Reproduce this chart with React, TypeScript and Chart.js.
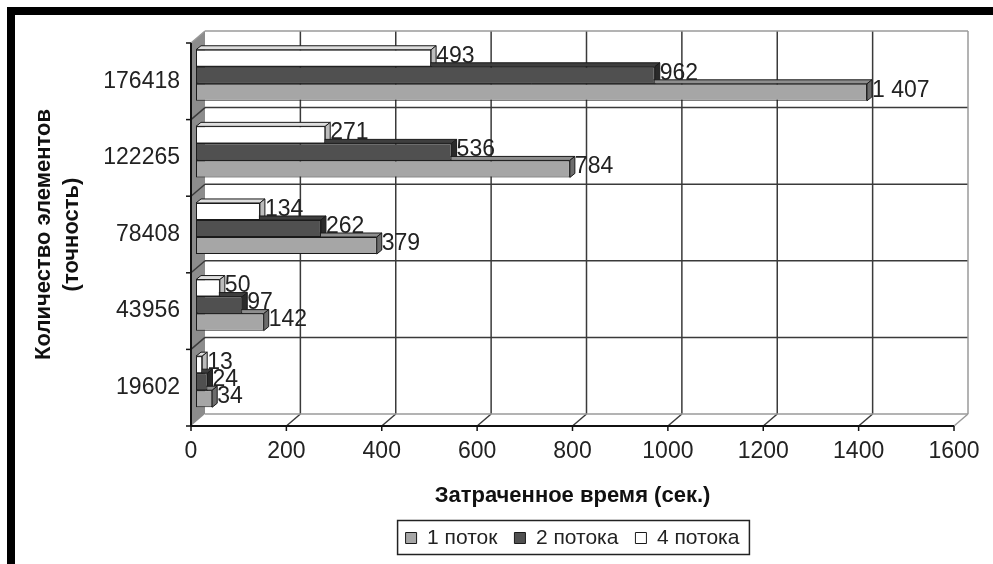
import React, { useEffect, useRef } from 'react';
import { Chart, registerables } from 'chart.js';

Chart.register(...registerables);

const categories = ['176418', '122265', '78408', '43956', '19602'];
const seriesNames = ['1 поток', '2 потока', '4 потока'];
const oneThread = [1407, 784, 379, 142, 34];
const twoThreads = [962, 536, 262, 97, 24];
const fourThreads = [493, 271, 134, 50, 13];
const xTickValues = [0, 200, 400, 600, 800, 1000, 1200, 1400, 1600];
const xTitle = 'Затраченное время (сек.)';
const yTitle = ['Количество элементов', '(точность)'];

const FONT = "'Liberation Sans', Arial, sans-serif";
const TEXT = '#222222';

const DX = 14, DY = -12; // wall depth
const BX = 5, BY = -6; // bar depth position
const FX = 5, FY = -4; // bar box depth

const faceColors: Record<string, { top: string; end: string }> = {
  '#ffffff': { top: '#dedede', end: '#bcbcbc' },
  '#505050': { top: '#3e3e3e', end: '#2a2a2a' },
  '#a6a6a6': { top: '#8e8e8e', end: '#6c6c6c' },
};

function fmt(v: number) {
  if (v >= 1000) return `${Math.floor(v / 1000)} ${String(v % 1000).padStart(3, '0')}`;
  return String(v);
}

const frame3d = {
  id: 'frame3d',
  beforeDatasetsDraw(chart: any) {
    const { ctx, chartArea: a, scales } = chart;
    const xs = scales.x, ys = scales.y;
    const L = a.left, R = a.right, T = a.top, B = a.bottom;
    const line = (x1: number, y1: number, x2: number, y2: number) => {
      ctx.beginPath(); ctx.moveTo(x1, y1); ctx.lineTo(x2, y2); ctx.stroke();
    };
    ctx.save();
    // left wall
    ctx.fillStyle = '#8c8c8c';
    ctx.beginPath();
    ctx.moveTo(L, T); ctx.lineTo(L + DX, T + DY); ctx.lineTo(L + DX, B + DY); ctx.lineTo(L, B);
    ctx.closePath(); ctx.fill();
    const n = categories.length;
    const band = (B - T) / n;
    const bounds: number[] = [];
    for (let i = 0; i < n; i++) bounds.push(ys.getPixelForValue(i) - band / 2);
    bounds.push(ys.getPixelForValue(n - 1) + band / 2);
    // back horizontal gridlines
    ctx.strokeStyle = '#3a3a3a';
    ctx.lineWidth = 1.5;
    for (let k = 1; k < n; k++) {
      const y = bounds[k];
      line(L + DX, y + DY, R + DX, y + DY);
      line(L, y, L + DX, y + DY);
    }
    // back vertical gridlines + floor lines
    xTickValues.forEach((v, i) => {
      if (i === 0 || i === xTickValues.length - 1) return;
      const x = xs.getPixelForValue(v);
      line(x + DX, T + DY, x + DX, B + DY);
      line(x + DX, B + DY, x, B);
    });
    // outer border of back plane
    ctx.strokeStyle = '#9a9a9a';
    line(L + DX, T + DY, R + DX, T + DY);
    line(R + DX, T + DY, R + DX, B + DY);
    line(R + DX, B + DY, R, B);
    line(L + DX, B + DY, R + DX, B + DY);
    line(L, T, L + DX, T + DY);
    // front axes
    ctx.strokeStyle = '#111111';
    ctx.lineWidth = 2;
    line(L, T, L, B);
    line(L, B, R, B);
    ctx.lineWidth = 1.5;
    xTickValues.forEach((v) => {
      const x = xs.getPixelForValue(v);
      line(x, B, x, B + 5);
    });
    bounds.forEach((y) => line(L - 5, y, L, y));
    ctx.restore();

    // bars: box faces, then library draws front faces
    ctx.save();
    ctx.translate(BX, BY);
    chart.data.datasets.forEach((ds: any, di: number) => {
      const meta = chart.getDatasetMeta(di);
      const fc = faceColors[ds.backgroundColor] || { top: '#999', end: '#777' };
      meta.data.forEach((el: any) => {
        const { x, y, base, height } = el;
        const top = y - height / 2, bot = y + height / 2;
        ctx.strokeStyle = '#1a1a1a';
        ctx.lineWidth = 1;
        ctx.fillStyle = fc.top;
        ctx.beginPath();
        ctx.moveTo(base, top); ctx.lineTo(x, top); ctx.lineTo(x + FX, top + FY); ctx.lineTo(base + FX, top + FY);
        ctx.closePath(); ctx.fill(); ctx.stroke();
        ctx.fillStyle = fc.end;
        ctx.beginPath();
        ctx.moveTo(x, top); ctx.lineTo(x + FX, top + FY); ctx.lineTo(x + FX, bot + FY); ctx.lineTo(x, bot);
        ctx.closePath(); ctx.fill(); ctx.stroke();
      });
    });
  },
  afterDatasetsDraw(chart: any) {
    const { ctx } = chart;
    ctx.restore();
    ctx.save();
    ctx.fillStyle = TEXT;
    ctx.font = `23px ${FONT}`;
    ctx.textAlign = 'left';
    ctx.textBaseline = 'middle';
    chart.data.datasets.forEach((ds: any, di: number) => {
      const meta = chart.getDatasetMeta(di);
      meta.data.forEach((el: any, i: number) => {
        ctx.fillText(fmt(ds.data[i]), el.x + BX + FX, el.y + BY - 2);
      });
    });
    ctx.restore();
  },
  afterDraw(chart: any) {
    const lg = chart.legend;
    if (!lg || !lg.legendHitBoxes || !lg.legendHitBoxes.length) return;
    const hb = lg.legendHitBoxes;
    let minL = Infinity, maxR = -Infinity, top = Infinity, bot = -Infinity;
    hb.forEach((h: any) => {
      minL = Math.min(minL, h.left);
      maxR = Math.max(maxR, h.left + h.width);
      top = Math.min(top, h.top);
      bot = Math.max(bot, h.top + h.height);
    });
    const { ctx } = chart;
    ctx.save();
    ctx.strokeStyle = '#222222';
    ctx.lineWidth = 1.5;
    ctx.strokeRect(minL - 8, top - 7, maxR - minL + 18, bot - top + 13);
    ctx.restore();
  },
};

export default function App() {
  const ref = useRef<HTMLCanvasElement | null>(null);
  useEffect(() => {
    if (!ref.current) return;
    const chart = new Chart(ref.current, {
      type: 'bar',
      data: {
        labels: categories,
        datasets: [
          { label: seriesNames[2], data: fourThreads, backgroundColor: '#ffffff' },
          { label: seriesNames[1], data: twoThreads, backgroundColor: '#505050' },
          { label: seriesNames[0], data: oneThread, backgroundColor: '#a6a6a6' },
        ].map((d) => ({
          ...d,
          borderColor: '#1a1a1a',
          borderWidth: 1,
          borderSkipped: false,
          categoryPercentage: 0.667,
          barPercentage: 1,
          clip: false as any,
        })),
      },
      options: {
        indexAxis: 'y',
        animation: false,
        responsive: false,
        devicePixelRatio: 1,
        layout: { padding: { top: 28, right: 39, bottom: 5.5, left: 0 } },
        scales: {
          x: {
            type: 'linear',
            min: 0,
            max: 1600,
            ticks: {
              stepSize: 200,
              color: TEXT,
              padding: 12,
              font: { family: FONT, size: 23 },
              callback: (v: any) => String(v),
            },
            grid: { display: false, drawTicks: false },
            border: { display: false },
            title: {
              display: true,
              text: xTitle,
              color: '#111',
              font: { family: FONT, size: 22, weight: 'bold', lineHeight: 1.2 },
              padding: { top: 0, bottom: 1.3 },
            },
            afterFit: (s: any) => { s.height = 84.5; },
          },
          y: {
            type: 'category',
            ticks: { color: TEXT, padding: 11, font: { family: FONT, size: 23 } },
            grid: { display: false, drawTicks: false },
            border: { display: false },
            title: {
              display: true,
              text: yTitle,
              color: '#111',
              font: { family: FONT, size: 22, weight: 'bold', lineHeight: 28 / 22 },
              padding: { top: 15, bottom: 0 },
            },
            afterFit: (s: any) => { s.width = 176; },
          },
        },
        plugins: {
          legend: {
            position: 'bottom',
            fullSize: false,
            reverse: true,
            labels: {
              boxWidth: 11,
              boxHeight: 11,
              padding: 17,
              color: TEXT,
              font: { family: FONT, size: 21 },
            },
          },
          tooltip: { enabled: false },
        },
      } as any,
      plugins: [frame3d],
    });
    return () => chart.destroy();
  }, []);

  return (
    <div
      style={{
        position: 'fixed',
        left: 7,
        top: 7,
        right: 0,
        bottom: 0,
        borderTop: '8px solid #000',
        borderLeft: '8px solid #000',
        background: '#fff',
        overflow: 'hidden',
      }}
    >
      <canvas ref={ref} width={978} height={549} style={{ display: 'block' }} />
    </div>
  );
}
